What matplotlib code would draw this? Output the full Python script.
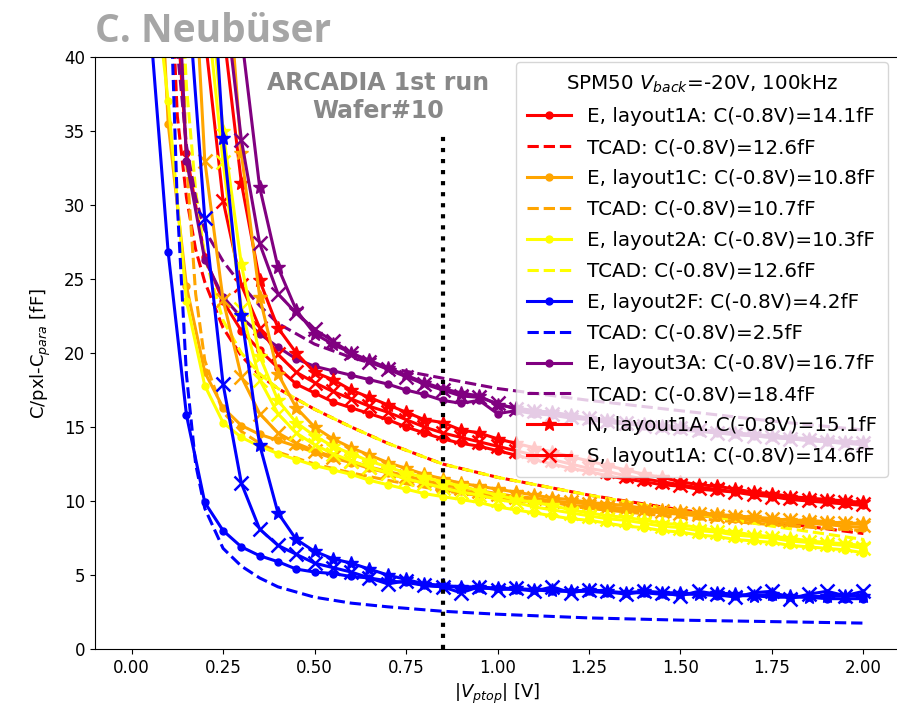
import numpy as np
import matplotlib.pyplot as plt

nan = np.nan

# bias points of the measurement, |V_ptop| in V
v = np.round(np.arange(0.05, 2.001, 0.05), 2)

# measured C/pxl - C_para [fF]; E/N/S pixels per layout
e_1A = [nan, 52, 33.5, 26.5, 23.5, 21.5, 20.2, 19.0, 17.9, 17.3, 16.7, 16.3, 15.9, 15.5, 15.0, 14.6, 14.2, 13.9, 13.7, 13.4,
        13.1, 12.8, 12.5, 12.2, 12.0, 11.7, 11.5, 11.3, 11.1, 11.0, 10.8, 10.7, 10.6, 10.4, 10.3, 10.1, 10.0, 9.9, 9.8, 9.7]
n_1A = [nan, nan, nan, nan, 42, 31.5, 24.9, 21.7, 20.0, 18.7, 18.2, 17.5, 17.0, 16.5, 16.0, 15.5, 15.3, 14.8, 14.6, 14.2,
        13.9, 13.6, 13.3, 13.0, 12.7, 12.4, 12.1, 11.8, 11.6, 11.3, 11.1, 11.0, 10.8, 10.6, 10.5, 10.3, 10.2, 10.1, 10.0, 9.9]
s_1A = [nan, nan, nan, 41.5, 30.3, 24.6, 21.7, 19.9, 18.7, 18.0, 17.4, 16.9, 16.4, 16.0, 15.5, 15.0, 14.6, 14.3, 14.0, 13.7,
        13.4, 13.1, 12.8, 12.5, 12.2, 12.0, 11.7, 11.5, 11.3, 11.1, 10.9, 10.8, 10.6, 10.5, 10.3, 10.2, 10.1, 10.0, 9.9, 9.8]

e_1C = [60, 35.5, 24.5, 18.7, 16.3, 15.1, 14.5, 14.1, 13.7, 13.3, 12.9, 12.6, 12.2, 11.9, 11.5, 11.2, 10.9, 10.7, 10.5, 10.3,
        10.2, 10.0, 9.9, 9.7, 9.6, 9.5, 9.4, 9.3, 9.2, 9.1, 9.0, 8.9, 8.8, 8.7, 8.6, 8.5, 8.5, 8.4, 8.3, 8.2]
n_1C = [nan, nan, nan, nan, 50, 33.5, 23.8, 18.6, 16.3, 15.0, 14.2, 13.6, 13.1, 12.6, 12.2, 11.8, 11.5, 11.2, 11.0, 10.8,
        10.6, 10.4, 10.2, 10.1, 9.9, 9.8, 9.7, 9.5, 9.4, 9.3, 9.2, 9.1, 9.0, 8.9, 8.8, 8.7, 8.7, 8.6, 8.5, 8.5]
s_1C = [nan, nan, 56, 33.0, 23.6, 18.4, 15.9, 14.6, 13.9, 13.4, 13.0, 12.7, 12.3, 12.0, 11.7, 11.4, 11.1, 10.9, 10.7, 10.5,
        10.3, 10.2, 10.0, 9.9, 9.8, 9.6, 9.5, 9.4, 9.3, 9.2, 9.1, 9.0, 8.9, 8.9, 8.8, 8.7, 8.6, 8.5, 8.5, 8.4]

e_2A = [48, 37, 23.5, 17.8, 15.3, 14.3, 13.7, 13.2, 12.8, 12.4, 12.1, 11.8, 11.4, 11.1, 10.8, 10.5, 10.3, 10.1, 9.9, 9.6,
        9.4, 9.2, 9.0, 8.8, 8.7, 8.5, 8.3, 8.2, 8.0, 7.9, 7.7, 7.6, 7.4, 7.3, 7.2, 7.0, 6.9, 6.8, 6.7, 6.5]
n_2A = [nan, nan, nan, 48, 35, 26, 19.8, 16.8, 15.3, 14.4, 13.7, 13.2, 12.7, 12.3, 11.9, 11.6, 11.3, 11.0, 10.7, 10.4,
        10.1, 9.9, 9.7, 9.4, 9.2, 9.0, 8.9, 8.7, 8.5, 8.4, 8.2, 8.0, 7.9, 7.7, 7.6, 7.5, 7.3, 7.2, 7.1, 7.0]
s_2A = [nan, nan, nan, 44.7, 32.9, 23.0, 18.2, 15.9, 14.6, 13.8, 13.2, 12.7, 12.3, 11.9, 11.5, 11.2, 10.9, 10.6, 10.4, 10.1,
        9.9, 9.6, 9.4, 9.2, 9.0, 8.8, 8.7, 8.5, 8.3, 8.2, 8.0, 7.9, 7.7, 7.6, 7.5, 7.3, 7.2, 7.1, 7.0, 6.8]

e_2F = [42.5, 26.8, 15.8, 9.9, 8.0, 6.9, 6.3, 5.9, 5.4, 5.2, 5.1, 4.9, 4.8, 4.6, 4.5, 4.3, 4.2, 4.2, 4.1, 4.1,
        4.0, 4.0, 3.9, 3.9, 3.9, 3.8, 3.8, 3.8, 3.7, 3.7, 3.7, 3.6, 3.6, 3.6, 3.5, 3.5, 3.5, 3.4, 3.4, 3.4]
n_2F = [nan, nan, nan, 54, 34.5, 22.6, 13.8, 9.2, 7.4, 6.6, 6.1, 5.8, 5.4, 5.0, 4.7, 4.4, 4.3, 4.2, 4.2, 4.1,
        4.1, 4.0, 4.0, 3.9, 4.0, 3.9, 3.8, 3.9, 3.8, 3.8, 3.7, 3.8, 3.7, 3.6, 3.7, 3.6, 3.5, 3.6, 3.6, 3.6]
s_2F = [nan, nan, 45.6, 29.1, 17.9, 11.2, 8.1, 7.0, 6.4, 5.8, 5.5, 5.2, 4.8, 4.4, 4.6, 4.3, 4.2, 3.8, 4.2, 4.0,
        4.1, 3.9, 4.2, 3.8, 4.0, 3.9, 3.7, 3.9, 3.8, 3.6, 3.9, 3.7, 3.5, 3.8, 3.9, 3.4, 3.7, 3.9, 3.6, 3.9]

e_3A = [nan, 60, 33, 26.3, 23.8, 22.4, 21.3, 20.4, 19.6, 19.1, 18.8, 18.5, 18.2, 17.9, 17.5, 17.2, 16.8, 16.6, 16.8, 15.9,
        16.1, 15.9, 15.8, 15.6, 15.5, 15.3, 15.2, 15.1, 14.9, 14.8, 14.7, 14.6, 14.5, 14.4, 14.3, 14.2, 14.1, 14.0, 13.9, 13.8]
n_3A = [nan, nan, nan, nan, nan, 41.5, 31.2, 25.8, 22.9, 21.3, 20.6, 20.0, 19.5, 19.0, 18.5, 18.0, 17.6, 17.3, 17.1, 16.5,
        16.3, 16.1, 16.0, 15.8, 15.6, 15.5, 15.3, 15.2, 15.1, 15.0, 14.8, 14.7, 14.6, 14.5, 14.4, 14.3, 14.2, 14.1, 14.0, 14.0]
s_3A = [nan, nan, nan, nan, 45, 34.4, 27.4, 24.0, 22.7, 21.6, 20.8, 20.0, 19.4, 18.9, 18.4, 17.9, 17.5, 17.1, 17.0, 16.6,
        16.2, 16.1, 15.9, 15.7, 15.6, 15.4, 15.3, 15.1, 15.0, 14.9, 14.8, 14.6, 14.5, 14.4, 14.3, 14.2, 14.1, 14.0, 13.9, 13.9]

# TCAD simulation
v_tcad = [0.10, 0.125, 0.15, 0.175, 0.20, 0.25, 0.30, 0.35, 0.40, 0.50, 0.60, 0.70, 0.85, 1.00, 1.25, 1.50, 1.75, 2.00]
tcad_1A = [50, 36, 30.5, 27, 24.8, 21.7, 19.8, 18.5, 17.6, 16.2, 15.0, 13.9, 12.5, 11.6, 10.4, 9.4, 8.6, 7.8]
tcad_1C = [75, 52, 33, 24, 19.5, 16, 14.7, 13.9, 13.3, 12.5, 11.9, 11.4, 10.7, 10.2, 9.5, 8.9, 8.4, 8.0]
tcad_2A = [70, 50, 38, 31, 26.5, 22.2, 20.0, 18.6, 17.6, 16.2, 15.0, 13.9, 12.5, 11.6, 10.4, 9.3, 8.3, 7.4]
tcad_2F = [49, 30, 18.5, 12.5, 9.5, 6.8, 5.6, 4.8, 4.2, 3.5, 3.1, 2.85, 2.55, 2.35, 2.1, 1.95, 1.85, 1.75]
tcad_3A = [50, 40.5, 34, 30.5, 28.3, 26.2, 24.6, 23.2, 22.0, 20.6, 19.7, 19.0, 18.3, 17.6, 16.8, 16.1, 15.4, 14.8]

layouts = ['1A', '1C', '2A', '2F', '3A']
colors = ['red', 'orange', 'yellow', 'blue', 'purple']
e_data = [e_1A, e_1C, e_2A, e_2F, e_3A]
n_data = [n_1A, n_1C, n_2A, n_2F, n_3A]
s_data = [s_1A, s_1C, s_2A, s_2F, s_3A]
tcad_data = [tcad_1A, tcad_1C, tcad_2A, tcad_2F, tcad_3A]
c_e = ['14.1', '10.8', '10.3', '4.2', '16.7']
c_tcad = ['12.6', '10.7', '12.6', '2.5', '18.4']
c_n1A = '15.1'
c_s1A = '14.6'

fig = plt.figure(figsize=(8.97, 7.15), dpi=100)
ax = fig.add_axes([95/897, 66/715, 805/897, 592/715])

lw = 2.2
for i in range(5):
    ax.plot(v, e_data[i], color=colors[i], marker='o', ms=5, lw=lw,
            label=f'E, layout{layouts[i]}: C(-0.8V)={c_e[i]}fF')
    ax.plot(v_tcad, tcad_data[i], color=colors[i], ls='--', lw=lw,
            label=f'TCAD: C(-0.8V)={c_tcad[i]}fF')
for i in range(5):
    lab_n = f'N, layout1A: C(-0.8V)={c_n1A}fF' if i == 0 else None
    lab_s = f'S, layout1A: C(-0.8V)={c_s1A}fF' if i == 0 else None
    ax.plot(v, n_data[i], color=colors[i], marker='*', ms=10, lw=lw, label=lab_n)
    ax.plot(v, s_data[i], color=colors[i], marker='x', ms=10, mew=1.8, lw=lw, label=lab_s)

ax.vlines(0.85, 0, 35, colors='black', linestyles=':', lw=3)

ax.set_xlim(-0.1, 2.1)
ax.set_ylim(0, 40)
ax.set_xticks([0, 0.25, 0.5, 0.75, 1.0, 1.25, 1.5, 1.75, 2.0])
ax.tick_params(labelsize=12)
ax.set_xlabel('|$V_{ptop}$| [V]', fontsize=13)
ax.set_ylabel('C/pxl-C$_{para}$ [fF]', fontsize=13, labelpad=8)

ax.text(0.674, 37.3, 'ARCADIA 1st run\nWafer#10', ha='center', va='center',
        fontsize=17, fontweight='bold', color='#888888')

ax.legend(loc='upper right', bbox_to_anchor=(888/897, 1 - 62/715), bbox_transform=fig.transFigure,
          borderaxespad=0, fontsize=14.3, title='SPM50 $V_{back}$=-20V, 100kHz',
          title_fontsize=14.3, labelspacing=0.6, borderpad=0.55,
          handlelength=2.2, handletextpad=0.8)

fig.text(95/897, 1 - 42/715, 'C. Neubüser', fontsize=28, fontweight='bold',
         color='#A6A6A6', family='Open Sans')

fig.savefig('out.png', dpi=100)
